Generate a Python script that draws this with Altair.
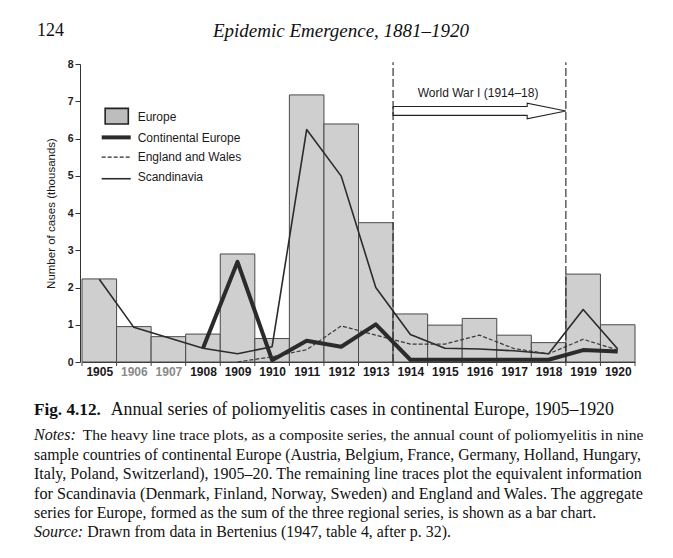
import altair as alt
import pandas as pd

# ---------------- data (thousands of cases) ----------------
years = list(range(1905, 1921))
europe = [2.23, 0.95, 0.68, 0.75, 2.90, 0.63, 7.17, 6.39, 3.74, 1.29, 0.99, 1.17, 0.72, 0.52, 2.36, 1.00]
continental = [None, None, None, 0.37, 2.69, 0.05, 0.57, 0.41, 1.01, 0.06, 0.06, 0.06, 0.06, 0.06, 0.32, 0.28]
england_wales = [None, None, None, None, 0.0, 0.14, 0.33, 0.97, 0.72, 0.48, 0.48, 0.72, 0.36, 0.22, 0.61, 0.32]
scandinavia = [2.22, 0.93, 0.65, 0.37, 0.22, 0.41, 6.24, 4.99, 2.00, 0.74, 0.37, 0.35, 0.30, 0.22, 1.41, 0.35]
y_ticks = [0, 1, 2, 3, 4, 5, 6, 7, 8]

legend_labels = ["Europe", "Continental Europe", "England and Wales", "Scandinavia"]
war_label = "World War I (1914\u201318)"
war_start, war_end = 1914, 1918

header_left = "124"
header_title = "Epidemic Emergence, 1881\u20131920"
fig_bold = "Fig. 4.12."
fig_text = "Annual series of poliomyelitis cases in continental Europe, 1905\u20131920"
notes_lines = [
    "The heavy line trace plots, as a composite series, the annual count of poliomyelitis in nine",
    "sample countries of continental Europe (Austria, Belgium, France, Germany, Holland, Hungary,",
    "Italy, Poland, Switzerland), 1905\u201320. The remaining line traces plot the equivalent information",
    "for Scandinavia (Denmark, Finland, Norway, Sweden) and England and Wales. The aggregate",
    "series for Europe, formed as the sum of the three regional series, is shown as a bar chart.",
]
source_text = "Drawn from data in Bertenius (1947, table 4, after p. 32)."

# ---------------- layout ----------------
W, H = 553, 298
SANS = "Liberation Sans"
SERIF = "Liberation Serif"
INK = "#2b2b2b"

xs = alt.Scale(domain=[years[0] - 0.5, years[-1] + 0.5], nice=False, zero=False)
ys = alt.Scale(domain=[0, 8], nice=False)

X_AXIS = alt.Axis(
    values=years, format="d", title=None, grid=False, ticks=False, tickSize=0,
    labelPadding=4, labelFont=SANS, labelFontSize=12, labelFontWeight="bold",
    labelColor=alt.expr("datum.value == 1906 || datum.value == 1907 ? '#8a8a8a' : '#1a1a1a'"),
    domainColor="#333", labelFlush=False)
Y_AXIS = alt.Axis(
    values=y_ticks, title="Number of cases (thousands)", grid=False, offset=2,
    tickSize=5, tickColor="#333", domainColor="#333", labelPadding=2,
    labelFont=SANS, labelFontSize=10.5, labelFontWeight="bold", labelColor="#1a1a1a",
    titleFont=SANS, titleFontSize=11.5, titleFontWeight="normal", titleColor="#1a1a1a",
    titlePadding=11)

def X(field):
    return alt.X(field, scale=xs, axis=X_AXIS)

def Y(field):
    return alt.Y(field, scale=ys, axis=Y_AXIS)

bars_df = pd.DataFrame({"year": years, "lo": [y - 0.5 for y in years],
                        "hi": [y + 0.5 for y in years], "value": europe})

bars = alt.Chart(bars_df).mark_rect(fill="#cfcfcf", stroke="#4a4a4a", strokeWidth=1).encode(
    x=X("lo:Q"), x2="hi:Q", y=Y("value:Q"), y2=alt.datum(0))

bound_df = pd.DataFrame({"b": [y - 0.5 for y in years] + [years[-1] + 0.5]})
xticks = alt.Chart(bound_df).mark_rule(color="#444", strokeWidth=1).encode(
    x=X("b:Q"), y=alt.value(H), y2=alt.value(H + 4))

def series_df(vals):
    return pd.DataFrame([{"year": y, "v": v} for y, v in zip(years, vals) if v is not None])

def line_layer(vals, width, dash=None, color=INK):
    kw = dict(color=color, strokeWidth=width, strokeJoin="round")
    if dash:
        kw["strokeDash"] = dash
    return alt.Chart(series_df(vals)).mark_line(**kw).encode(x=X("year:Q"), y=Y("v:Q"))

l_scand = line_layer(scandinavia, 1.6)
l_eng = line_layer(england_wales, 1.2, [4, 2], "#3a3a3a")
l_cont = line_layer(continental, 4.0)

# ---------------- WWI annotation ----------------
a0, a1 = war_start - 0.5, war_end + 0.5
war_df = pd.DataFrame({"x": [a0, a1], "y0": [0, 0], "y1": [8.05, 8.05]})
war_rules = alt.Chart(war_df).mark_rule(color="#222", strokeWidth=1.1, strokeDash=[8, 3]).encode(
    x=X("x:Q"), y=Y("y0:Q"), y2="y1:Q")

head = a1 - 1.12
arrow_df = pd.DataFrame({
    "x": [a0, head, head, a1, head, head, a0, a0],
    "y": [6.86, 6.86, 6.95, 6.74, 6.53, 6.62, 6.62, 6.86],
    "o": list(range(8)),
})
arrow = alt.Chart(arrow_df).mark_line(color="#222", strokeWidth=1.1, strokeJoin="miter").encode(
    x=X("x:Q"), y=Y("y:Q"), order="o:Q")

war_text = alt.Chart(pd.DataFrame({"t": [war_label], "x": [(a0 + a1) / 2 - 0.04], "y": [7.22]})).mark_text(
    font=SANS, fontSize=12, color="#1a1a1a", align="center", baseline="middle").encode(
    x=X("x:Q"), y=Y("y:Q"), text="t:N")

# ---------------- legend (drawn in data space) ----------------
lg_box = alt.Chart(pd.DataFrame({"x": [1905.17], "x2": [1905.84], "y": [6.81], "y2": [6.39]})).mark_rect(
    fill="#bdbdbd", stroke="#222", strokeWidth=1.6).encode(
    x=X("x:Q"), x2="x2:Q", y=Y("y:Q"), y2="y2:Q")

def lg_line(yv, width, dash=None):
    kw = dict(color=INK, strokeWidth=width)
    if dash:
        kw["strokeDash"] = dash
    return alt.Chart(pd.DataFrame({"x": [1905.07], "x2": [1905.91], "y": [yv]})).mark_rule(**kw).encode(
        x=X("x:Q"), x2="x2:Q", y=Y("y:Q"))

lg_text = alt.Chart(pd.DataFrame({"t": legend_labels, "x": [1906.11] * 4,
                                  "y": [6.59, 6.02, 5.50, 4.97]})).mark_text(
    font=SANS, fontSize=12, color="#1a1a1a", align="left", baseline="middle").encode(
    x=X("x:Q"), y=Y("y:Q"), text="t:N")

legend = lg_box + lg_line(6.03, 4.0) + lg_line(5.50, 1.2, [4, 2]) + lg_line(4.92, 1.6) + lg_text

# ---------------- page text (header and caption) ----------------
def page_text(t, x, y, size, style="normal", weight="normal", align="left"):
    return alt.Chart(pd.DataFrame({"t": [t]})).mark_text(
        font=SERIF, fontSize=size, fontStyle=style, fontWeight=weight, color="#111",
        align=align, baseline="middle").encode(x=alt.value(x), y=alt.value(y), text="t:N")

OX, OY = 82, 64  # page position of plot origin
hdr = page_text(header_left, 37 - OX, 31 - OY, 18) + \
      page_text(header_title, 341 - OX, 31 - OY, 19, style="italic", align="center")

cap = page_text(fig_bold, 34 - OX, 410 - OY, 17.2, weight="bold") + \
      page_text(fig_text, 110.7 - OX, 410 - OY, 17.8)

line_y = [435, 454.5, 474, 493.5, 513]
note_sizes = [15.6, 15.8, 16.0, 16.2, 15.9]
notes = page_text("Notes:", 34 - OX, line_y[0] - OY, 16, style="italic") + \
        page_text(notes_lines[0], 82.7 - OX, line_y[0] - OY, note_sizes[0])
for i in range(1, 5):
    notes = notes + page_text(notes_lines[i], 34 - OX, line_y[i] - OY, note_sizes[i])
src = page_text("Source:", 34 - OX, 532 - OY, 16, style="italic") + \
      page_text(source_text, 87.3 - OX, 532 - OY, 15.9)

chart = alt.layer(
    bars, xticks, l_scand, l_eng, l_cont, war_rules, arrow, war_text, legend, hdr, cap, notes, src
).properties(
    width=W, height=H,
    autosize=alt.AutoSizeParams(type="none"),
    padding={"left": 74, "top": 56, "right": 30, "bottom": 188},
    background="white",
).configure_view(stroke=None)

chart.save("out.html", embed_options={"renderer": "svg", "actions": False})
